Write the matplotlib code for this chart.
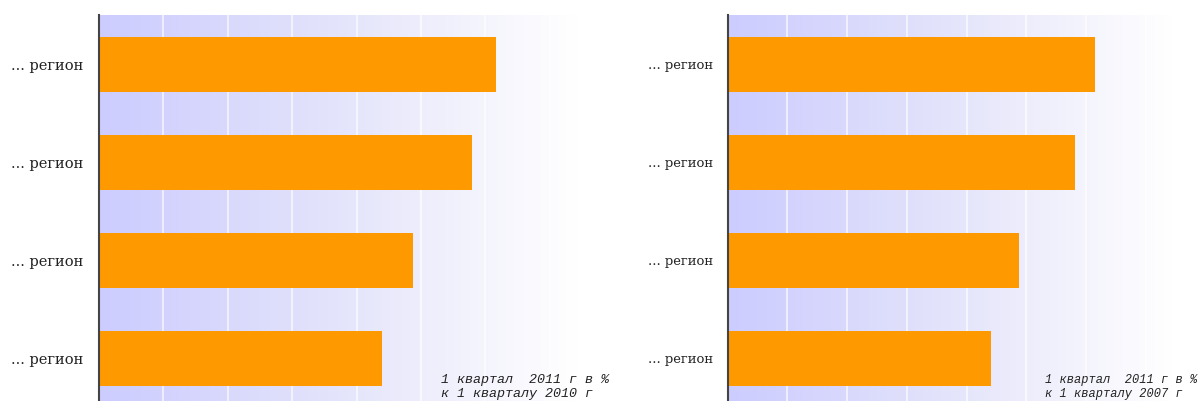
import matplotlib
matplotlib.use("Agg")
import matplotlib.pyplot as plt
import numpy as np
from matplotlib.colors import LinearSegmentedColormap

# data
regions = ["... регион", "... регион", "... регион", "... регион"]
values_2010 = [61.6, 58.0, 48.7, 44.0]
values_2007 = [61.5, 58.1, 48.8, 44.1]
note_2010 = "1 квартал  2011 г в %\nк 1 кварталу 2010 г"
note_2007 = "1 квартал  2011 г в %\nк 1 кварталу 2007 г"
grid_ticks = [0, 10, 20, 30, 40, 50, 60, 70, 80]

W, H = 1203, 401
fig = plt.figure(figsize=(W / 100, H / 100), dpi=100)

bg = LinearSegmentedColormap.from_list("bg", ["#ccccff", "#e4e4fb", "#ffffff"])


def panel(x0, width, values, note, note_x, scale):
    # axes placed in pixels: top at y=15, bottom a bit below the picture edge
    top, bottom = 15, 407.5
    ax = fig.add_axes([x0 / W, 1 - bottom / H, width / W, (bottom - top) / H])
    ax.set_xlim(0, 80)
    ax.set_ylim(3.5, -0.5)
    grad = np.linspace(0, 1, 256).reshape(1, -1)
    ax.imshow(grad, cmap=bg, aspect="auto", extent=[0, 80, 3.5, -0.5],
              vmin=0, vmax=0.93, zorder=0)
    for t in grid_ticks[1:]:
        ax.axvline(t, color="white", lw=1.1, alpha=0.8, zorder=1)
    ax.barh(range(len(values)), values, height=0.56, color="#ff9900", zorder=2)
    ax.set_yticks(range(len(regions)))
    ax.set_yticklabels(regions, family="DejaVu Serif", fontsize=10.5 * scale,
                       color="#222222")
    ax.tick_params(axis="y", length=0, pad=11.5 * scale)
    ax.set_xticks([])
    for s in ["top", "right", "bottom"]:
        ax.spines[s].set_visible(False)
    ax.spines["left"].set_color("#444444")
    ax.spines["left"].set_linewidth(1.5)
    ax.spines["left"].set_zorder(3)
    fig.text(note_x / W, 1 - 387 / H, note, family="Liberation Mono",
             style="italic", fontsize=9.6 * scale, color="#222222", va="center",
             ha="left", linespacing=1.15)
    return ax


panel(99, 515, values_2010, note_2010, 441, 1.0)
panel(727.5, 478, values_2007, note_2007, 1045, 0.9)

fig.savefig("out.png", dpi=100)
